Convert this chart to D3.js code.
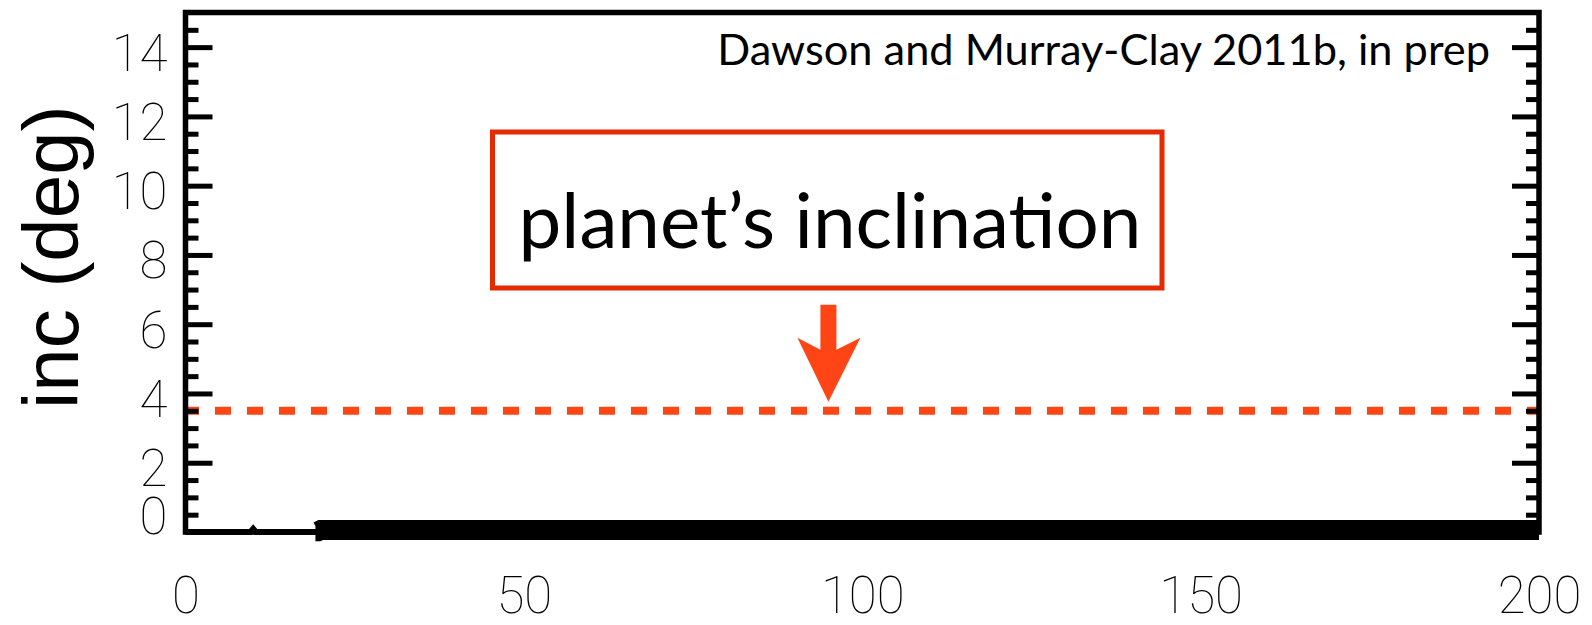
<!DOCTYPE html>
<html>
<head>
<meta charset="utf-8">
<script src="https://cdn.jsdelivr.net/npm/d3@7"></script>
<style>
  html, body { margin: 0; padding: 0; background: #fff; }
  svg { display: block; }
</style>
</head>
<body>
<svg id="chart" width="1592" height="625"></svg>
<script>
// ---- data ----
const xTicks = [0, 50, 100, 150, 200];
const yTicks = [0, 2, 4, 6, 8, 10, 12, 14];
const yMinorTicks = [0.5, 1, 1.5, 2.5, 3, 3.5, 4.5, 5, 5.5, 6.5, 7, 7.5, 8.5, 9, 9.5, 10.5, 11, 11.5, 12.5, 13, 13.5, 14.5];
// early phase (time, inclination in deg)
const timeEarly = [0, 9.6, 10, 10.4, 19.2];
const incEarly = [0, 0, 0.09, 0, 0];
// later phase: thick band near zero
const timeLate = [19.2, 19.6, 20, 60, 100, 140, 200];
const incLate = [0.02, 0.02, 0.06, 0.06, 0.06, 0.06, 0.06];
// planet's inclination
const planetInc = 3.5;
const arrowTime = 95;
const labelText = "planet\u2019s inclination";
const creditText = "Dawson and Murray-Clay 2011b, in prep";
const yTitle = "inc (deg)";

// ---- layout ----
const svg = d3.select("#chart");
const L = 185.5, R = 1539, T = 12.5, B = 532;
const x = d3.scaleLinear().domain([0, 200]).range([L, R]);
const y = d3.scaleLinear().domain([0, 15]).range([B, T]);
const orange = "#ff4515";
const boxRed = "#e32a00";
const tickFont = "Roboto, 'DejaVu Sans', sans-serif";

// data lines
const line = d3.line().x((d) => x(d[0])).y((d) => y(d[1]));
svg.append("path")
  .datum(timeEarly.map((t, i) => [t, incEarly[i]]))
  .attr("d", line).attr("fill", "none").attr("stroke", "#000").attr("stroke-width", 6);
svg.append("path")
  .datum(timeLate.map((t, i) => [t, incLate[i]]))
  .attr("d", line).attr("fill", "none").attr("stroke", "#000").attr("stroke-width", 20)
  .attr("stroke-linecap", "butt");

// dashed planet inclination line
svg.append("line")
  .attr("x1", x(0) - 2.5).attr("x2", x(200) + 1)
  .attr("y1", y(planetInc)).attr("y2", y(planetInc))
  .attr("stroke", orange).attr("stroke-width", 8)
  .attr("stroke-dasharray", "16 16");

// y axes (major + minor), ticks pointing inward
function styleAxis(g) {
  g.select(".domain").remove();
  g.selectAll(".tick line").attr("stroke", "#000").attr("stroke-width", 5);
}
const yLeft = svg.append("g").attr("transform", `translate(${L},0)`)
  .call(d3.axisLeft(y).tickValues(yTicks).tickSize(-27).tickPadding(18).tickFormat(d3.format("d")));
styleAxis(yLeft);
yLeft.selectAll(".tick text")
  .attr("font-family", tickFont).attr("font-weight", 100)
  .attr("font-size", 51).attr("fill", "#000")
  .attr("dy", "0.45em");
yLeft.selectAll(".tick").filter((d) => d === 0).select("text").attr("dy", "0.02em");
yLeft.selectAll(".tick").filter((d) => d === 0).select("line").remove();

const yLeftMinor = svg.append("g").attr("transform", `translate(${L},0)`)
  .call(d3.axisLeft(y).tickValues(yMinorTicks).tickSize(-13).tickFormat(""));
styleAxis(yLeftMinor);

const yRight = svg.append("g").attr("transform", `translate(${R},0)`)
  .call(d3.axisRight(y).tickValues(yTicks.filter((d) => d > 0)).tickSize(-27).tickFormat(""));
styleAxis(yRight);
const yRightMinor = svg.append("g").attr("transform", `translate(${R},0)`)
  .call(d3.axisRight(y).tickValues(yMinorTicks).tickSize(-13).tickFormat(""));
styleAxis(yRightMinor);

// x axis labels
const xAxis = svg.append("g").attr("transform", `translate(0,${B})`)
  .call(d3.axisBottom(x).tickValues(xTicks).tickSize(0).tickPadding(45).tickFormat(d3.format("d")));
xAxis.select(".domain").remove();
xAxis.selectAll(".tick text")
  .attr("font-family", tickFont).attr("font-weight", 100)
  .attr("font-size", 51).attr("fill", "#000");

// frame
svg.append("rect")
  .attr("x", L).attr("y", T).attr("width", R - L).attr("height", B - T)
  .attr("fill", "none").attr("stroke", "#000").attr("stroke-width", 5.5);

// y title
svg.append("text")
  .attr("transform", `translate(78,${(y(15) + y(0)) / 2 - 15}) rotate(-90)`)
  .attr("text-anchor", "middle")
  .attr("font-family", "'Liberation Sans', Arial, sans-serif")
  .attr("font-size", 78).attr("fill", "#000")
  .text(yTitle);

// credit
function fitWidth(sel, target) {
  const w = sel.node().getComputedTextLength();
  const fs = parseFloat(sel.attr("font-size"));
  sel.attr("font-size", fs * target / w);
}
const credit = svg.append("text")
  .attr("x", 1490).attr("y", 65).attr("text-anchor", "end")
  .attr("font-family", "Lato, 'Open Sans', sans-serif")
  .attr("font-size", 42).attr("fill", "#000")
  .text(creditText);
fitWidth(credit, 773);

// annotation box + label
const ax = x(arrowTime);
svg.append("rect")
  .attr("x", 492.5).attr("y", 132).attr("width", 1162 - 492.5).attr("height", 288 - 132)
  .attr("fill", "#fff").attr("stroke", boxRed).attr("stroke-width", 5);
const lab = svg.append("text")
  .attr("x", 830).attr("y", 248).attr("text-anchor", "middle")
  .attr("font-family", "Lato, 'Open Sans', sans-serif")
  .attr("font-size", 80).attr("fill", "#000")
  .text(labelText);
fitWidth(lab, 623);

// arrow
const tipY = y(planetInc) - 9;
svg.append("path")
  .attr("d", `M${ax - 8},${tipY - 97} L${ax + 8},${tipY - 97} L${ax + 8},${tipY - 52}
              L${ax + 32},${tipY - 64} L${ax},${tipY} L${ax - 31},${tipY - 64}
              L${ax - 8},${tipY - 52} Z`)
  .attr("fill", orange);
</script>
</body>
</html>
